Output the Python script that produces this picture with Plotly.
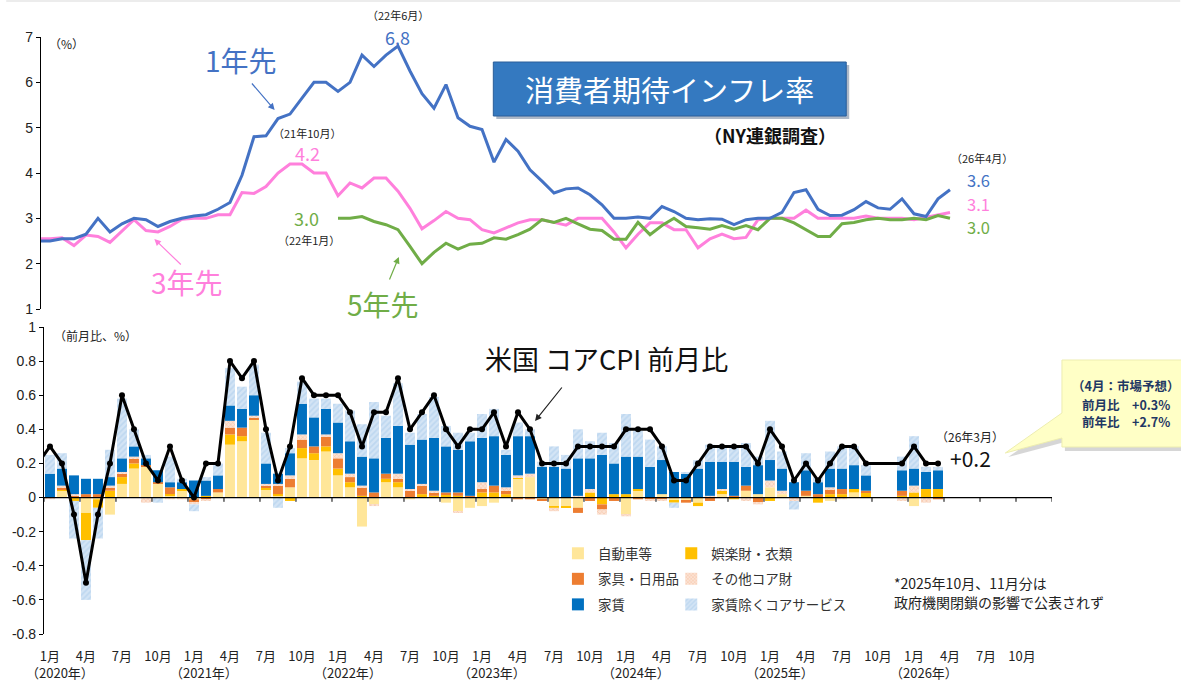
import plotly.graph_objects as go
import pandas as pd

# ---------------- data ----------------
top_months = [p.strftime("%Y-%m") for p in pd.period_range("2019-12", "2026-04", freq="M")]
five_months = [p.strftime("%Y-%m") for p in pd.period_range("2022-01", "2026-04", freq="M")]
cpi_months = [p.strftime("%Y-%m") for p in pd.period_range("2019-12", "2026-03", freq="M")]
bar_months = [p.strftime("%Y-%m") for p in pd.period_range("2020-01", "2026-03", freq="M")]

exp_1y = [2.5, 2.5, 2.55, 2.55, 2.65, 3.0, 2.7, 2.88, 3.0, 2.97, 2.82, 2.93, 3.0,
          3.05, 3.08, 3.2, 3.35, 3.95, 4.8, 4.82, 5.2, 5.3, 5.65, 6.0, 6.0,
          5.8, 6.0, 6.6, 6.35, 6.6, 6.8, 6.25, 5.75, 5.43, 5.95, 5.22, 5.03,
          4.96, 4.24, 4.74, 4.48, 4.07, 3.82, 3.56, 3.65, 3.67, 3.52, 3.3, 3.0,
          3.0, 3.03, 3.0, 3.26, 3.15, 3.0, 2.97, 2.99, 2.98, 2.86, 2.97, 3.0,
          3.0, 3.13, 3.57, 3.63, 3.2, 3.06, 3.07, 3.19, 3.37, 3.23, 3.2, 3.43,
          3.1, 3.04, 3.43, 3.63]
exp_3y = [2.55, 2.55, 2.57, 2.4, 2.63, 2.6, 2.47, 2.71, 2.97, 2.73, 2.7, 2.82, 2.98,
          3.0, 3.0, 3.08, 3.08, 3.57, 3.55, 3.7, 4.0, 4.2, 4.2, 4.0, 4.0,
          3.5, 3.78, 3.67, 3.89, 3.89, 3.6, 3.22, 2.77, 2.95, 3.15, 3.0, 2.97,
          2.75, 2.68, 2.79, 2.9, 2.97, 2.97, 2.91, 2.85, 3.0, 3.0, 3.0, 2.7,
          2.35, 2.65, 2.9, 2.9, 2.75, 2.75, 2.35, 2.55, 2.65, 2.55, 2.58, 2.97,
          3.0, 3.0, 3.0, 3.18, 3.0, 3.0, 3.0, 3.0, 3.05, 3.0, 3.0, 3.0,
          2.97, 3.02, 3.08, 3.13]
exp_5y = [3.0, 3.0, 3.04, 2.93, 2.86, 2.75, 2.38, 2.0, 2.25, 2.45, 2.32, 2.43,
          2.45, 2.57, 2.54, 2.64, 2.76, 2.97, 2.91, 3.0, 2.88, 2.76, 2.73, 2.54,
          2.54, 2.91, 2.64, 2.84, 3.0, 2.82, 2.79, 2.76, 2.84, 2.76, 2.84, 2.75,
          3.0, 3.0, 2.9, 2.75, 2.6, 2.6, 2.88, 2.91, 2.97, 3.0, 2.97, 2.97,
          3.0, 2.97, 3.06, 3.0]

core_cpi = [0.2,
            0.3, 0.2, -0.1, -0.5, -0.1, 0.2, 0.6, 0.4, 0.2, 0.1, 0.3, 0.1,
            0.0, 0.2, 0.2, 0.8, 0.7, 0.8, 0.4, 0.1, 0.3, 0.7, 0.6, 0.6,
            0.6, 0.5, 0.3, 0.5, 0.5, 0.7, 0.4, 0.5, 0.6, 0.4, 0.3, 0.4,
            0.4, 0.5, 0.3, 0.5, 0.4, 0.2, 0.2, 0.2, 0.3, 0.3, 0.3, 0.3,
            0.4, 0.4, 0.4, 0.3, 0.1, 0.1, 0.2, 0.3, 0.3, 0.3, 0.3, 0.2,
            0.4, 0.3, 0.1, 0.2, 0.1, 0.2, 0.3, 0.3, 0.2, None, None, 0.2,
            0.3, 0.2, 0.2]

car = [0, 0.04, 0, -0.09, -0.01, -0.10, 0.08, 0.17, 0.18, 0.08, 0.01, 0.04,
       -0.01, 0, 0.03, 0.31, 0.33, 0.46, 0.05, 0.01, 0.06, 0.23, 0.22, 0.27,
       0.13, 0.06, -0.17, -0.04, 0.09, 0.06, -0.01, 0, 0, -0.03, -0.08, -0.06,
       -0.05, -0.03, 0, 0.11, 0.12, -0.01, -0.05, -0.05, -0.06, 0, 0, 0,
       -0.10, 0.04, 0, 0.02, -0.02, -0.02, -0.03, 0, 0.02, 0, 0.04, 0.02,
       0.06, 0.02, 0, 0.01, 0, -0.02, 0, 0.03, 0, None, None, 0,
       -0.05, 0, 0]
rec = [0, 0.01, -0.02, -0.16, -0.05, 0.04, 0.04, 0.03, 0, 0, 0.01, 0.01,
       0, 0.01, 0, 0.06, 0.03, 0, 0.01, 0.01, -0.02, 0.06, 0.04, 0.03,
       0.04, 0.03, 0.01, 0, 0.02, 0.03, 0, 0.02, 0.01, 0.02, 0.01, 0,
       0.03, 0.03, 0.02, 0.01, 0, 0, -0.01, -0.01, 0, 0.03, -0.04, 0.02,
       0.02, 0.01, 0, 0, -0.01, 0, -0.02, 0, 0.02, -0.01, 0, 0,
       -0.02, 0, 0, 0, -0.03, 0.02, 0.02, 0.02, 0.03, None, None, 0.01,
       0.03, 0.05, 0.05]
furn = [0, 0.01, 0.01, 0.02, 0.02, 0.02, 0.02, 0.03, 0.01, 0.01, 0.04, 0,
        -0.02, -0.01, 0.02, 0.04, 0.05, 0.01, 0.01, 0.05, 0.05, 0.05, 0.04, 0.06,
        0.06, 0.03, 0.05, 0.03, 0.03, 0.02, 0.04, 0.05, 0.02, 0.01, 0.02, 0.01,
        0.02, 0.04, 0.02, -0.01, -0.01, -0.01, 0, 0, -0.03, -0.02, -0.03, -0.02,
        0, -0.01, -0.01, -0.01, 0, -0.01, 0, -0.02, 0, 0.01, 0.03, -0.03,
        0, 0, 0, 0.03, 0.02, 0.03, 0.03, 0, 0.01, None, None, 0.03,
        0, 0, -0.01]
other = [-0.01, 0.01, 0.01, 0, 0, 0.01, 0.01, 0.01, -0.03, 0, -0.01, -0.01,
         -0.01, -0.01, 0, 0.04, 0, 0.01, 0.01, 0.01, 0.02, 0.03, 0, 0.01,
         0.03, 0.02, 0.01, -0.01, 0, 0.03, 0.01, 0.01, 0.01, 0, -0.01, 0,
         0.04, 0, 0.02, 0.01, 0.02, 0, -0.02, 0, 0.01, 0.02, -0.03, 0,
         -0.01, 0, -0.01, -0.01, 0, 0, 0, 0.01, 0.01, 0, -0.02, -0.01,
         0.04, 0.02, -0.02, 0, 0, 0.01, -0.01, 0, 0, None, None, -0.02,
         0.04, -0.03, 0]
rent = [0.14, 0.10, 0.11, 0.09, 0.09, 0.05, 0.08, 0.06, 0.04, 0.07, 0.03, 0.04,
        0.10, 0.09, 0.08, 0.09, 0.11, 0.12, 0.12, 0.06, 0.13, 0.18, 0.17, 0.15,
        0.18, 0.19, 0.17, 0.20, 0.21, 0.28, 0.26, 0.26, 0.31, 0.27, 0.25, 0.32,
        0.26, 0.29, 0.19, 0.23, 0.22, 0.18, 0.18, 0.17, 0.22, 0.18, 0.25, 0.18,
        0.22, 0.19, 0.18, 0.20, 0.15, 0.14, 0.17, 0.20, 0.16, 0.20, 0.11, 0.17,
        0.12, 0.13, 0.09, 0.12, 0.07, 0.11, 0.12, 0.14, 0.09, None, None, 0.12,
        0.10, 0.10, 0.11]
svc = [0.11, 0.09, -0.22, -0.35, -0.18, 0.16, 0.35, 0.10, 0.02, -0.03, 0.15, 0.02,
       -0.04, 0.02, 0.07, 0.22, 0.13, 0.18, 0.18, -0.06, 0.03, 0.13, 0.11, 0.06,
       0.11, 0.18, 0.19, 0.33, 0.13, 0.25, 0.07, 0.15, 0.24, 0.12, 0.10, 0.05,
       0.14, 0.16, 0.03, 0.08, 0.04, 0.03, 0.12, 0.08, 0.17, 0.10, 0.13, 0.12,
       0.25, 0.15, 0.16, 0.08, -0.03, 0.01, 0.05, 0.10, 0.09, 0.08, 0.14, 0.05,
       0.23, 0.10, -0.05, 0.10, 0.03, 0.10, 0.13, 0.11, 0.06, None, None, 0.08,
       0.19, 0.03, 0.02]

bar_names = ["自動車等", "娯楽財・衣類", "家具・日用品", "その他コア財", "家賃", "家賃除くコアサービス"]
month_ticks = ["1月", "4月", "7月", "10月"]
year_labels = ["（2020年）", "（2021年）", "（2022年）", "（2023年）", "（2024年）", "（2025年）", "（2026年）"]


def midx(s):
    return (int(s[:4]) - 2020) * 12 + int(s[5:7]) - 1


# ---------------- geometry helpers (pixels -> paper) ----------------
W, H = 1181, 682
L, RR, T, BB = 35, 1052, 37, 634


def px(x):
    return (x - L) / (RR - L)


def py(y):
    return (BB - y) / (BB - T)


JP = "Noto Sans CJK JP"
NUM = "Liberation Sans, Arial"

fig = go.Figure()

# top chart lines
blue, pink, green = "#4472C4", "#FF80DC", "#70AD47"
for months, vals, col in [(top_months, exp_3y, pink), (five_months, exp_5y, green), (top_months, exp_1y, blue)]:
    fig.add_trace(go.Scatter(x=[midx(m) for m in months], y=vals, mode="lines",
                             line=dict(color=col, width=3), showlegend=False,
                             xaxis="x", yaxis="y", hoverinfo="skip"))

# bottom stacked bars
series = [car, rec, furn, other, rent, svc]
styles = [
    dict(color="#FFE699"),
    dict(color="#FFC000"),
    dict(color="#ED7D31"),
    dict(color="#F4B183", pattern=dict(shape="x", bgcolor="#FBE2D3", fgcolor="#F4A77A", size=3, solidity=0.35)),
    dict(color="#0070C0"),
    dict(color="#A9CBEB", pattern=dict(shape="/", bgcolor="#D3E4F5", fgcolor="#A9CBEB", size=4, solidity=0.45)),
]
legends = ["legend", "legend2", "legend", "legend2", "legend", "legend2"]
bx = [midx(m) for m in bar_months]
for name, vals, st, lg in zip(bar_names, series, styles, legends):
    fig.add_trace(go.Bar(x=bx, y=vals, name=name, marker=dict(line=dict(width=0), **st),
                         xaxis="x2", yaxis="y2", legend=lg, legendgroup=name,
                         hoverinfo="skip"))

fig.add_trace(go.Scatter(x=[midx(m) for m in cpi_months], y=core_cpi, mode="lines+markers",
                         connectgaps=True, line=dict(color="black", width=3),
                         marker=dict(color="black", size=6), showlegend=False,
                         xaxis="x2", yaxis="y2", hoverinfo="skip"))

shapes = []
# zero line with quarterly tick marks
shapes.append(dict(type="line", xref="x2", yref="y2", x0=-0.5, x1=83.5, y0=0, y1=0,
                   line=dict(color="black", width=1.2), layer="above"))
for k in range(29):
    xv = -0.5 + 3 * k
    shapes.append(dict(type="line", xref="x2", yref="y2", x0=xv, x1=xv, y0=0, y1=-0.025,
                       line=dict(color="black", width=1), layer="above"))

# thin border line at top of the image
shapes.append(dict(type="line", xref="paper", yref="paper", x0=px(0), x1=px(W), y0=py(1), y1=py(1),
                   line=dict(color="#D9D9D9", width=1)))

# title box (shadow + box)
shapes.append(dict(type="rect", xref="paper", yref="paper", x0=px(493), x1=px(848), y0=py(119), y1=py(65),
                   fillcolor="#8C9BB0", line=dict(width=0), opacity=0.7))
shapes.append(dict(type="rect", xref="paper", yref="paper", x0=px(490), x1=px(845), y0=py(116), y1=py(62),
                   fillcolor="#3479C0", line=dict(color="#2A5E99", width=1)))


def path(points):
    return "M " + " L ".join(f"{px(a):.5f},{py(b):.5f}" for a, b in points) + " Z"


callout = [(1062, 360), (1190, 360), (1190, 447), (1062, 447), (1062, 438), (1005, 453), (1062, 413)]
shadow = [(a + 3, b + 4) for a, b in callout]
shapes.append(dict(type="path", xref="paper", yref="paper", path=path(shadow),
                   fillcolor="#B5B5B5", line=dict(width=0), opacity=0.55))
shapes.append(dict(type="path", xref="paper", yref="paper", path=path(callout),
                   fillcolor="#FFFFC6", line=dict(color="#EDEDB0", width=1)))

annotations = []


def txt(x, y, text, size, color="#222222", family=JP, xanchor="center"):
    annotations.append(dict(x=px(x), y=py(y), xref="paper", yref="paper", text=text, showarrow=False,
                            font=dict(size=size, color=color, family=family),
                            xanchor=xanchor, yanchor="middle"))


def arrow(x0, y0, x1, y1, color):
    annotations.append(dict(x=px(x1), y=py(y1), xref="paper", yref="paper", text="",
                            ax=x0 - x1, ay=y0 - y1, axref="pixel", ayref="pixel",
                            showarrow=True, arrowhead=2, arrowsize=1.1, arrowwidth=1.2,
                            arrowcolor=color, standoff=0))


# top chart texts
txt(61, 43, "（%）", 12)
txt(236, 60, "1年先", 28, blue)
arrow(246, 82, 270, 110, blue)
txt(394, 15, "（22年6月）", 11)
txt(394, 37, "6.8", 18, blue)
txt(303, 133, "（21年10月）", 11)
txt(303, 153, "4.2", 18, pink)
txt(302, 218, "3.0", 18, green)
txt(305, 240, "（22年1月）", 11)
txt(182, 282, "3年先", 28, pink)
arrow(177, 266, 149, 239, pink)
txt(379, 304, "5年先", 28, green)
arrow(385, 281, 395, 257, green)
txt(667, 89, "消費者期待インフレ率", 29, "white")
txt(768, 135, "<b>（NY連銀調査）</b>", 18, "#111111")
txt(982, 158, "（26年4月）", 11)
txt(978, 180, "3.6", 16.5, blue)
txt(978, 203.5, "3.1", 16.5, pink)
txt(978, 227, "3.0", 16.5, green)

# bottom chart texts
txt(90, 335, "（前月比、%）", 12)
txt(604, 358, "米国 コアCPI 前月比", 27, "#111111")
arrow(560, 386, 532, 421, "#222222")
txt(970, 437, "（26年3月）", 12)
txt(970, 458, "+0.2", 21, "#111111")
txt(1126, 385, "<b>（4月：市場予想）</b>", 12.5, "#1F3864")
txt(1126, 404, "<b>前月比　+0.3%</b>", 12.5, "#1F3864")
txt(1126, 422, "<b>前年比　+2.7%</b>", 12.5, "#1F3864")
txt(891, 583, "*2025年10月、11月分は", 14, "#222222", xanchor="left")
txt(891, 602, "政府機関閉鎖の影響で公表されず", 14, "#222222", xanchor="left")

for i, lab in enumerate(year_labels):
    annotations.append(dict(x=12 * i + 0.8, y=py(672), xref="x2", yref="paper", text=lab,
                            showarrow=False, font=dict(size=13, color="#222222", family=JP),
                            xanchor="center", yanchor="middle"))

axis_common = dict(showgrid=False, zeroline=False, showline=True, linecolor="black", linewidth=1.2,
                   ticks="outside", ticklen=4, tickcolor="black",
                   tickfont=dict(family=NUM, size=14, color="#222222"))

fig.update_layout(
    width=W, height=H,
    margin=dict(l=L, r=W - RR, t=T, b=H - BB),
    paper_bgcolor="white", plot_bgcolor="rgba(0,0,0,0)",
    barmode="relative", bargap=0.17,
    xaxis=dict(domain=[0, 1], range=[-0.5 - 3 / 12.07, 83.5], visible=False, anchor="y"),
    yaxis=dict(domain=[py(309), 1], range=[1, 7], tickvals=[1, 2, 3, 4, 5, 6, 7], anchor="x",
               **axis_common),
    xaxis2=dict(domain=[3 / (RR - L), 1], range=[-0.5, 83.5], anchor="y2", showgrid=False,
                zeroline=False, showline=False, ticks="",
                tickvals=list(range(0, 84, 3)), ticktext=month_ticks * 7,
                ticklabelstandoff=13,
                tickfont=dict(family=JP, size=13, color="#222222")),
    yaxis2=dict(domain=[0, py(327)], range=[-0.8, 1.0], anchor="x2",
                tickvals=[-0.8, -0.6, -0.4, -0.2, 0, 0.2, 0.4, 0.6, 0.8, 1.0],
                ticktext=["-0.8", "-0.6", "-0.4", "-0.2", "0", "0.2", "0.4", "0.6", "0.8", "1"],
                **axis_common),
    legend=dict(x=px(555), y=py(538), xanchor="left", yanchor="top", orientation="v",
                bgcolor="rgba(0,0,0,0)", tracegroupgap=5, itemwidth=30,
                font=dict(family=JP, size=13.5, color="#333333")),
    legend2=dict(x=px(669), y=py(538), xanchor="left", yanchor="top", orientation="v",
                 bgcolor="rgba(0,0,0,0)", tracegroupgap=5, itemwidth=30,
                 font=dict(family=JP, size=13.5, color="#333333")),
    shapes=shapes,
    annotations=annotations,
    font=dict(family=JP),
)

fig.write_html("out.html", config={"displayModeBar": False})

# remove the browser's default page margin so the figure sits at the top-left corner
with open("out.html", encoding="utf-8") as f:
    html = f.read()
html = html.replace("<head>", "<head><style>html,body{margin:0;padding:0;overflow:hidden;}</style>", 1)
with open("out.html", "w", encoding="utf-8") as f:
    f.write(html)
